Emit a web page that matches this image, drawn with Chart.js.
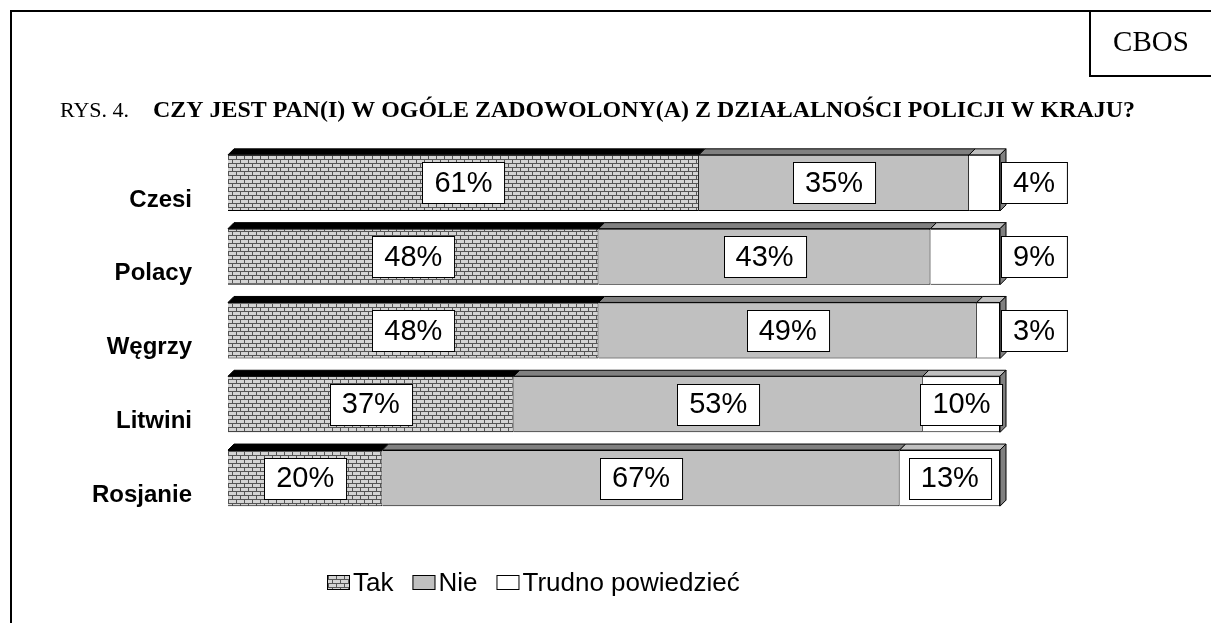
<!DOCTYPE html>
<html>
<head>
<meta charset="utf-8">
<script src="https://cdn.jsdelivr.net/npm/chart.js@4.4.1/dist/chart.umd.min.js"></script>
<style>
  html, body { margin: 0; padding: 0; background: #fff; }
  #wrap { position: relative; width: 1211px; height: 623px; }
</style>
</head>
<body>
<div id="wrap"><canvas id="chart" width="1211" height="623"></canvas></div>
<script>
// Categories and answers (percent)
const countries = ["Czesi", "Polacy", "Węgrzy", "Litwini", "Rosjanie"];
const tak = [61, 48, 48, 37, 20];
const nie = [35, 43, 49, 53, 67];
const trudno = [4, 9, 3, 10, 13];
const seriesNames = ["Tak", "Nie", "Trudno powiedzieć"];

const titlePrefix = "RYS. 4.";
const titleText = "CZY JEST PAN(I) W OGÓLE ZADOWOLONY(A) Z DZIAŁALNOŚCI POLICJI W KRAJU?";

// Brick pattern for "Tak"
function brickPattern() {
  const c = document.createElement("canvas");
  c.width = 8; c.height = 8;
  const g = c.getContext("2d");
  g.fillStyle = "#d4d4d4";
  g.fillRect(0, 0, 8, 8);
  g.fillStyle = "#555555";
  g.fillRect(0, 3, 8, 1);
  g.fillRect(0, 7, 8, 1);
  g.fillRect(0, 0, 1, 3);
  g.fillRect(4, 4, 1, 3);
  return g.createPattern(c, "repeat");
}

const fills = [brickPattern(), "#c0c0c0", "#ffffff"];
const tops = ["#000000", "#808080", "#c0c0c0"];
const sides = ["#404040", "#606060", "#808080"];
const DEPTH = 6;

// frame, title, legend
const decoPlugin = {
  id: "deco",
  afterDraw(chart) {
    const ctx = chart.ctx;
    ctx.save();
    ctx.strokeStyle = "#000";
    ctx.lineWidth = 2;
    ctx.beginPath();
    ctx.moveTo(11, 623); ctx.lineTo(11, 11); ctx.lineTo(1211, 11);
    ctx.moveTo(1090, 11); ctx.lineTo(1090, 76); ctx.lineTo(1211, 76);
    ctx.stroke();

    ctx.fillStyle = "#000";
    ctx.textBaseline = "alphabetic";
    ctx.textAlign = "center";
    ctx.font = "29px 'Liberation Serif'";
    ctx.fillText("CBOS", 1151, 51);

    ctx.textAlign = "left";
    ctx.font = "22px 'Liberation Serif'";
    ctx.fillText(titlePrefix, 60, 117);
    ctx.font = "bold 24px 'Liberation Serif'";
    ctx.fillText(titleText, 153, 117, 982);

    // legend
    ctx.font = "26px 'Liberation Sans', Arial";
    ctx.textBaseline = "middle";
    let x = 327;
    const y = 583;
    chart.data.datasets.forEach((ds, i) => {
      ctx.fillStyle = ds.backgroundColor;
      ctx.fillRect(x, y - 8, 23, 15);
      ctx.lineWidth = 1;
      ctx.strokeStyle = "#000";
      ctx.strokeRect(x + 0.5, y - 7.5, 22, 14);
      ctx.fillStyle = "#000";
      ctx.fillText(ds.label, x + 26, y + 1);
      x += 26 + ctx.measureText(ds.label).width + 19;
    });
    ctx.restore();
  }
};

// 3D top / side faces and value boxes
const bar3dPlugin = {
  id: "bar3d",
  afterDatasetsDraw(chart) {
    const ctx = chart.ctx;
    const n = chart.data.datasets.length;
    ctx.save();
    ctx.lineWidth = 1;
    ctx.strokeStyle = "#000";
    for (let d = 0; d < n; d++) {
      const meta = chart.getDatasetMeta(d);
      meta.data.forEach((bar) => {
        const p = bar.getProps(["x", "y", "base", "height"], true);
        const top = p.y - p.height / 2, bottom = p.y + p.height / 2;
        ctx.fillStyle = tops[d];
        ctx.beginPath();
        ctx.moveTo(p.base, top);
        ctx.lineTo(p.base + DEPTH, top - DEPTH);
        ctx.lineTo(p.x + DEPTH, top - DEPTH);
        ctx.lineTo(p.x, top);
        ctx.closePath();
        ctx.fill(); ctx.stroke();
        if (d === n - 1) {
          ctx.fillStyle = sides[d];
          ctx.beginPath();
          ctx.moveTo(p.x, top);
          ctx.lineTo(p.x + DEPTH, top - DEPTH);
          ctx.lineTo(p.x + DEPTH, bottom - DEPTH);
          ctx.lineTo(p.x, bottom);
          ctx.closePath();
          ctx.fill(); ctx.stroke();
        }
      });
    }
    // value labels
    ctx.font = "29px 'Liberation Sans', Arial";
    ctx.textAlign = "center";
    ctx.textBaseline = "middle";
    for (let d = 0; d < n; d++) {
      const meta = chart.getDatasetMeta(d);
      const vals = chart.data.datasets[d].data;
      meta.data.forEach((bar, i) => {
        const p = bar.getProps(["x", "y", "base"], true);
        const txt = vals[i] + "%";
        const w = ctx.measureText(txt).width + 24;
        const h = 41;
        let cx = (p.x + p.base) / 2;
        if (vals[i] < 10) cx = p.x + 1 + w / 2;
        const bx = Math.round(cx - w / 2) + 0.5, by = Math.round(p.y - h / 2) + 0.5;
        ctx.fillStyle = "#fff";
        ctx.fillRect(bx, by, w, h);
        ctx.strokeStyle = "#000";
        ctx.strokeRect(bx, by, w, h);
        ctx.fillStyle = "#000";
        ctx.fillText(txt, cx, p.y + 1);
      });
    }
    ctx.restore();
  }
};

const values = [tak, nie, trudno];

new Chart(document.getElementById("chart"), {
  type: "bar",
  data: {
    labels: countries,
    datasets: values.map((v, i) => ({
      label: seriesNames[i],
      data: v,
      backgroundColor: fills[i],
      borderColor: "#000",
      borderWidth: 1,
      barPercentage: 0.76,
      categoryPercentage: 1
    }))
  },
  options: {
    indexAxis: "y",
    responsive: false,
    animation: false,
    layout: { padding: { top: 146, bottom: 108, right: 211, left: 0 } },
    plugins: {
      legend: { display: false },
      tooltip: { enabled: false }
    },
    scales: {
      x: { stacked: true, min: 0, max: 100, display: false },
      y: {
        stacked: true,
        grid: { display: false, drawTicks: false },
        border: { display: false },
        ticks: {
          color: "#000",
          font: { family: "'Liberation Sans', Arial", size: 24, weight: "bold" },
          padding: 36,
          labelOffset: 17
        },
        afterFit(scale) { scale.width = 228; }
      }
    }
  },
  plugins: [bar3dPlugin, decoPlugin]
});
</script>
</body>
</html>
